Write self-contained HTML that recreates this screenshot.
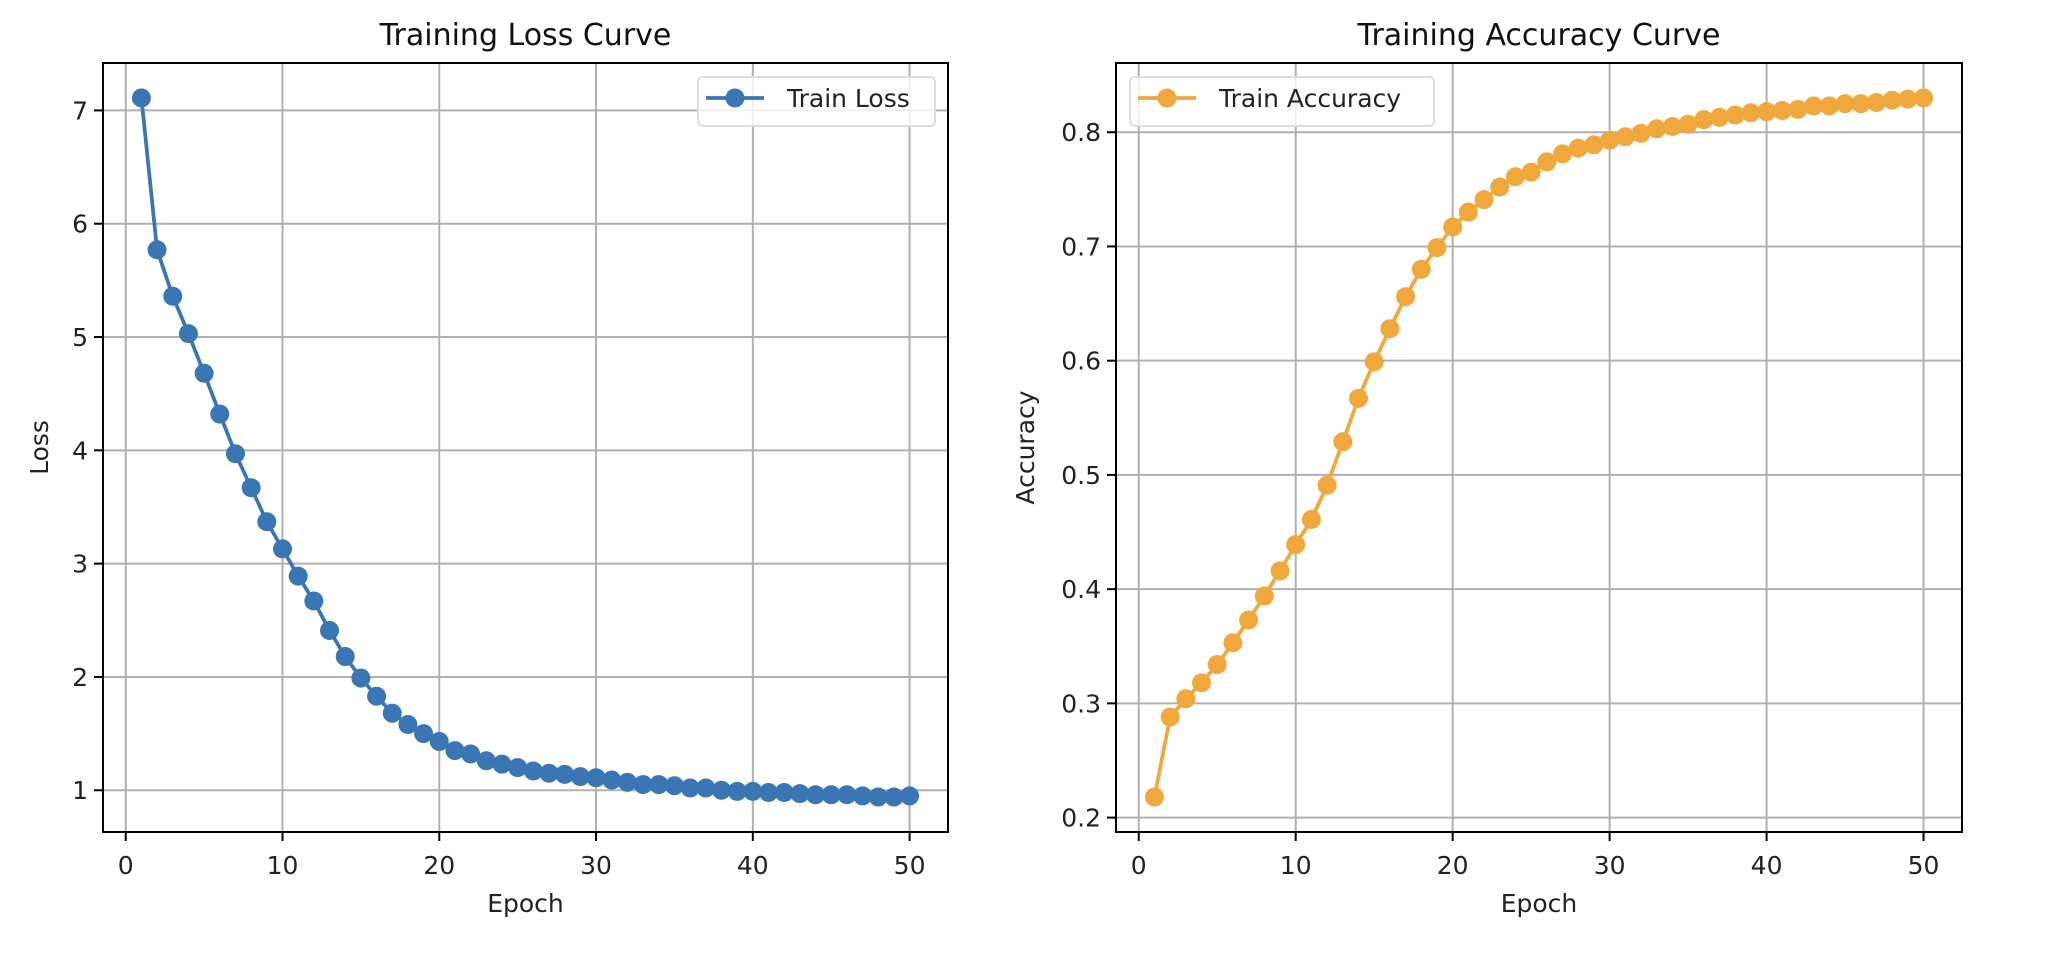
<!DOCTYPE html>
<html><head><meta charset="utf-8"><style>
html,body{margin:0;padding:0;background:#fff;}
svg{display:block;font-family:"DejaVu Sans","Liberation Sans",sans-serif;}
</style></head><body>
<svg id="fig" width="2053" height="960" viewBox="0 0 2053 960" xmlns="http://www.w3.org/2000/svg"></svg>
<script>
const epochs = Array.from({length:50},(_,i)=>i+1);
const lossValues = [7.11,5.77,5.36,5.03,4.68,4.32,3.97,3.67,3.37,3.13,2.89,2.67,2.41,2.18,1.99,1.83,1.68,1.58,1.50,1.43,1.35,1.32,1.26,1.23,1.20,1.17,1.15,1.14,1.12,1.11,1.09,1.07,1.05,1.05,1.04,1.02,1.02,1.00,0.99,0.99,0.98,0.98,0.97,0.96,0.96,0.96,0.95,0.94,0.94,0.95];
const accValues = [0.218,0.288,0.304,0.318,0.334,0.353,0.373,0.394,0.416,0.439,0.461,0.491,0.529,0.567,0.599,0.628,0.656,0.680,0.699,0.717,0.730,0.741,0.752,0.761,0.765,0.774,0.781,0.786,0.789,0.793,0.796,0.799,0.803,0.805,0.807,0.811,0.813,0.815,0.817,0.818,0.819,0.820,0.823,0.823,0.825,0.825,0.826,0.828,0.829,0.830];
const xTicks = [0,10,20,30,40,50];
const lossTicks = [1,2,3,4,5,6,7];
const lossTickLabels = ["1","2","3","4","5","6","7"];
const accTicks = [0.2,0.3,0.4,0.5,0.6,0.7,0.8];
const accTickLabels = ["0.2","0.3","0.4","0.5","0.6","0.7","0.8"];

const NS="http://www.w3.org/2000/svg";
const svg=document.getElementById('fig');
function mk(tag,attrs,parent){const e=document.createElementNS(NS,tag);for(const k in attrs)e.setAttribute(k,attrs[k]);(parent||svg).appendChild(e);return e;}

function panel(o){
  const g=mk('g',{});
  
  
  const ext=(arr)=>{const mn=Math.min(...arr),mx=Math.max(...arr),m=(mx-mn)*0.05;return [mn-m,mx+m];};
  const [x0,x1]=ext(o.xs),[y0,y1]=ext(o.ys);
  const X=v=>o.L+(v-x0)/(x1-x0)*(o.R-o.L);
  const Y=v=>o.B-(v-y0)/(y1-y0)*(o.B-o.T);
  // grid
  o.xt.forEach(t=>{const l=mk('line',{x1:X(t),x2:X(t),y1:o.T,y2:o.B,stroke:'#b0b0b0','stroke-width':2},g);
    });
  o.yt.forEach(t=>{const l=mk('line',{x1:o.L,x2:o.R,y1:Y(t),y2:Y(t),stroke:'#b0b0b0','stroke-width':2},g);
    });
  // ticks
  o.xt.forEach(t=>{mk('line',{x1:X(t),x2:X(t),y1:o.B,y2:o.B+9,stroke:'#000','stroke-width':2},g);
    const tx=mk('text',{x:X(t),y:o.B+42,'font-size':25,'text-anchor':'middle',fill:'#222'},g);tx.textContent=t;
    });
  o.yt.forEach((t,i)=>{mk('line',{x1:o.L-9,x2:o.L,y1:Y(t),y2:Y(t),stroke:'#000','stroke-width':2},g);
    const tx=mk('text',{x:o.L-15,y:Y(t)+9,'font-size':25,'text-anchor':'end',fill:'#222'},g);tx.textContent=o.yl[i];
    });
  // series
  const pts=o.xs.map((x,i)=>X(x)+','+Y(o.ys[i])).join(' ');
  const pl=mk('polyline',{points:pts,fill:'none',stroke:o.color,'stroke-width':3.75,'stroke-linejoin':'round'},g);
  
  o.xs.forEach((x,i)=>{const c=mk('circle',{cx:X(x),cy:Y(o.ys[i]),r:9.5,fill:o.color},g);
    });
  // spines
  const sp=mk('rect',{x:o.L,y:o.T,width:o.R-o.L,height:o.B-o.T,fill:'none',stroke:'#000','stroke-width':2},g);
  
  // title & labels
  const ti=mk('text',{x:(o.L+o.R)/2,y:45,'font-size':30,'text-anchor':'middle',fill:'#111'},g);ti.textContent=o.title;
  
  const xl=mk('text',{x:(o.L+o.R)/2,y:912,'font-size':25,'text-anchor':'middle',fill:'#222'},g);xl.textContent='Epoch';
  
  const yl=mk('text',{x:o.ylx,y:(o.T+o.B)/2,'font-size':25,'text-anchor':'middle',fill:'#222',transform:`rotate(-90 ${o.ylx} ${(o.T+o.B)/2})`},g);yl.textContent=o.ylabel;
  
  // legend
  const lg=mk('g',{},g);
  
  mk('rect',{x:o.lgx,y:77,width:o.lgw,height:49,rx:5,fill:'#fff','fill-opacity':0.8,stroke:'#ddd','stroke-width':2},lg);
  mk('line',{x1:o.lgx+8,x2:o.lgx+66,y1:98,y2:98,stroke:o.color,'stroke-width':3.75},lg);
  mk('circle',{cx:o.lgx+37,cy:98,r:9.5,fill:o.color},lg);
  const lt=mk('text',{x:o.lgx+89,y:107,'font-size':25,fill:'#222'},lg);lt.textContent=o.label;
  
}
panel({name:'loss-chart',L:103,R:948,T:63,B:832,xs:epochs,ys:lossValues,xt:xTicks,yt:lossTicks,yl:lossTickLabels,color:'#3a75b4',title:'Training Loss Curve',ylabel:'Loss',ylx:48,label:'Train Loss',lgx:698,lgw:237});
panel({name:'accuracy-chart',L:1116,R:1962,T:63,B:832,xs:epochs,ys:accValues,xt:xTicks,yt:accTicks,yl:accTickLabels,color:'#f0a73b',title:'Training Accuracy Curve',ylabel:'Accuracy',ylx:1034,label:'Train Accuracy',lgx:1130,lgw:304});
</script>
</body></html>
